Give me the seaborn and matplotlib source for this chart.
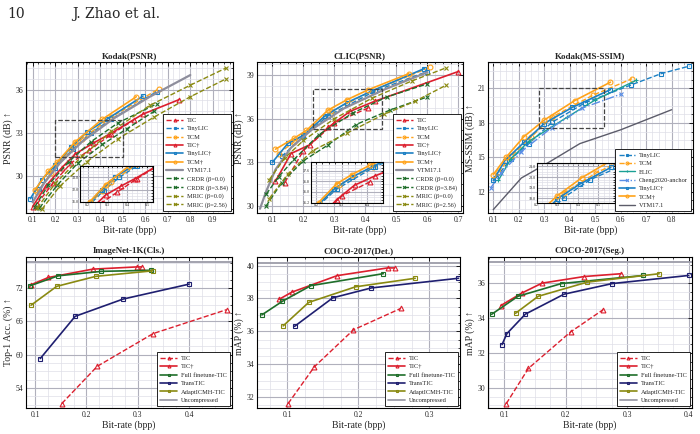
import matplotlib
matplotlib.use("Agg")
import matplotlib.pyplot as plt
import seaborn as sns
from matplotlib.ticker import AutoMinorLocator, MultipleLocator
from matplotlib.patches import Rectangle

# ---------------- Kodak (PSNR) ----------------
kp_tic_x = [0.12, 0.19, 0.27, 0.35, 0.45, 0.55]
kp_tic_y = [28.1, 29.5, 30.9, 31.8, 32.9, 33.9]
kp_tinylic_x = [0.13, 0.20, 0.28, 0.36, 0.45, 0.65]
kp_tinylic_y = [29.1, 30.6, 31.9, 33.0, 33.95, 35.85]
kp_tcm_x = [0.12, 0.18, 0.27, 0.32, 0.45, 0.66]
kp_tcm_y = [28.9, 30.2, 31.9, 32.6, 34.1, 36.05]
kp_tic2_x = [0.10, 0.16, 0.23, 0.29, 0.37, 0.44, 0.59, 0.75]
kp_tic2_y = [27.9, 29.35, 30.6, 31.55, 32.3, 32.9, 34.3, 35.3]
kp_tinylic2_x = [0.09, 0.14, 0.20, 0.27, 0.34, 0.43, 0.59]
kp_tinylic2_y = [28.45, 29.75, 30.75, 32.0, 33.05, 33.95, 35.55]
kp_tcm2_x = [0.11, 0.17, 0.21, 0.29, 0.41, 0.56]
kp_tcm2_y = [29.05, 30.35, 31.0, 32.4, 33.95, 35.5]
kp_vtm_x = [0.10, 0.15, 0.22, 0.32, 0.46, 0.62, 0.80]
kp_vtm_y = [28.2, 29.5, 30.9, 32.4, 34.0, 35.5, 37.0]
kp_crdr0_x = [0.11, 0.17, 0.26, 0.36, 0.48, 0.65]
kp_crdr0_y = [27.9, 29.4, 31.0, 32.4, 33.7, 35.0]
kp_crdr1_x = [0.13, 0.21, 0.30, 0.41, 0.52, 0.64]
kp_crdr1_y = [27.8, 29.4, 30.9, 32.2, 33.3, 34.5]
kp_mric0_x = [0.12, 0.20, 0.32, 0.45, 0.62, 0.80, 0.96]
kp_mric0_y = [27.8, 29.5, 31.4, 33.1, 34.9, 36.3, 37.5]
kp_mric1_x = [0.14, 0.22, 0.34, 0.48, 0.64, 0.80, 0.96]
kp_mric1_y = [27.7, 29.3, 31.0, 32.6, 34.1, 35.5, 36.75]

# ---------------- CLIC (PSNR) ----------------
cp_tic_x = [0.14, 0.20, 0.30, 0.41]
cp_tic_y = [31.6, 33.8, 35.7, 36.75]
cp_tinylic_x = [0.13, 0.20, 0.28, 0.43, 0.60]
cp_tinylic_y = [33.4, 34.8, 36.2, 37.9, 39.25]
cp_tcm_x = [0.12, 0.17, 0.29, 0.42, 0.61]
cp_tcm_y = [33.6, 34.4, 36.5, 37.9, 39.55]
cp_tic2_x = [0.11, 0.16, 0.22, 0.28, 0.35, 0.43, 0.70]
cp_tic2_y = [31.7, 33.6, 34.2, 35.4, 36.5, 37.2, 39.25]
cp_tinylic2_x = [0.10, 0.15, 0.20, 0.27, 0.34, 0.42, 0.59]
cp_tinylic2_y = [33.0, 34.3, 34.85, 36.2, 37.1, 37.9, 39.45]
cp_tcm2_x = [0.11, 0.17, 0.21, 0.28, 0.34, 0.41, 0.54]
cp_tcm2_y = [33.9, 34.65, 35.2, 36.6, 37.3, 38.0, 39.1]
cp_vtm_x = [0.06, 0.08, 0.11, 0.16, 0.23, 0.33, 0.46, 0.60]
cp_vtm_y = [29.8, 31.0, 32.5, 34.0, 35.3, 36.7, 38.0, 39.2]
cp_crdr0_x = [0.08, 0.12, 0.17, 0.25, 0.36, 0.47, 0.60]
cp_crdr0_y = [30.8, 32.0, 33.2, 34.9, 36.4, 37.5, 38.4]
cp_crdr1_x = [0.08, 0.13, 0.20, 0.28, 0.37, 0.48, 0.60]
cp_crdr1_y = [30.0, 31.6, 33.1, 34.2, 35.6, 36.6, 37.5]
cp_mric0_x = [0.09, 0.14, 0.20, 0.30, 0.42, 0.55, 0.66]
cp_mric0_y = [31.8, 33.3, 34.5, 36.0, 37.4, 38.6, 39.5]
cp_mric1_x = [0.09, 0.15, 0.23, 0.34, 0.46, 0.56, 0.66]
cp_mric1_y = [30.5, 32.2, 33.8, 35.0, 36.3, 37.2, 38.3]

# ---------------- Kodak (MS-SSIM) ----------------
km_tinylic_x = [0.11, 0.17, 0.24, 0.33, 0.46, 0.64, 0.76, 0.87]
km_tinylic_y = [13.2, 14.9, 16.2, 18.05, 19.75, 21.3, 22.3, 22.95]
km_tcm_x = [0.12, 0.17, 0.25, 0.33, 0.49, 0.645]
km_tcm_y = [13.7, 15.1, 16.8, 18.5, 20.4, 21.85]
km_elic_x = [0.12, 0.17, 0.24, 0.39, 0.50, 0.66]
km_elic_y = [13.0, 14.9, 16.4, 18.5, 20.0, 21.7]
km_cheng_x = [0.09, 0.13, 0.21, 0.33, 0.45, 0.60]
km_cheng_y = [12.35, 13.6, 15.5, 17.6, 19.3, 20.5]
km_tinylic2_x = [0.10, 0.145, 0.22, 0.30, 0.41, 0.56]
km_tinylic2_y = [13.0, 14.7, 16.3, 17.95, 19.35, 20.9]
km_tcm2_x = [0.10, 0.15, 0.22, 0.30, 0.42, 0.56]
km_tcm2_y = [13.5, 15.0, 16.8, 18.25, 19.95, 21.55]
km_vtm_x = [0.10, 0.21, 0.32, 0.44, 0.60, 0.80]
km_vtm_y = [10.45, 13.2, 14.6, 16.2, 17.4, 19.15]

# ---------------- ImageNet-1K (Cls.) ----------------
cls_tic_x = [0.152, 0.221, 0.330, 0.473]
cls_tic_y = [51.2, 57.9, 63.8, 68.1]
cls_tic2_x = [0.092, 0.126, 0.212, 0.298, 0.308]
cls_tic2_y = [72.6, 73.9, 75.4, 75.8, 75.8]
cls_full_x = [0.090, 0.145, 0.229, 0.325]
cls_full_y = [72.4, 74.2, 75.0, 75.2]
cls_trans_x = [0.110, 0.178, 0.271, 0.400]
cls_trans_y = [59.3, 66.9, 70.0, 72.7]
cls_adapt_x = [0.092, 0.142, 0.218, 0.329]
cls_adapt_y = [68.9, 72.3, 74.1, 75.1]
cls_uncompressed = 76.6

# ---------------- COCO-2017 (Det.) ----------------
det_tic_x = [0.101, 0.138, 0.193, 0.260]
det_tic_y = [31.6, 33.84, 36.09, 37.4]
det_tic2_x = [0.088, 0.106, 0.170, 0.241, 0.251]
det_tic2_y = [37.94, 38.38, 39.39, 39.86, 39.86]
det_full_x = [0.064, 0.093, 0.133, 0.235]
det_full_y = [37.0, 37.83, 38.78, 39.51]
det_trans_x = [0.110, 0.164, 0.218, 0.341]
det_trans_y = [36.3, 38.04, 38.64, 39.23]
det_adapt_x = [0.094, 0.130, 0.196, 0.280]
det_adapt_y = [36.33, 37.76, 38.71, 39.23]
det_uncompressed = 40.16

# ---------------- COCO-2017 (Seg.) ----------------
seg_tic_x = [0.103, 0.139, 0.208, 0.261]
seg_tic_y = [29.1, 31.11, 33.2, 34.47]
seg_tic2_x = [0.094, 0.128, 0.161, 0.230, 0.290]
seg_tic2_y = [34.7, 35.41, 35.98, 36.36, 36.52]
seg_full_x = [0.079, 0.122, 0.193, 0.326]
seg_full_y = [34.2, 35.23, 35.96, 36.42]
seg_trans_x = [0.096, 0.104, 0.134, 0.197, 0.276, 0.400]
seg_trans_y = [32.47, 33.1, 34.21, 35.35, 35.96, 36.42]
seg_adapt_x = [0.118, 0.155, 0.235, 0.352]
seg_adapt_y = [34.26, 35.23, 36.04, 36.52]
seg_uncompressed = 37.19

# zoom boxes (x0, x1, y0, y1)
kp_box = [0.2, 0.5, 31.3, 33.9]
cp_box = [0.23, 0.454, 35.3, 38.05]
km_box = [0.28, 0.536, 17.55, 21.0]

RED = "#dc1f2e"
BLUE = "#1c80c4"
ORANGE = "#ffa31a"
GRAY = "#8e8e9c"
GREEN = "#1f6e2a"
OLIVE = "#8a8a12"
TEAL = "#1aa095"
LBLUE = "#5a8ee6"
NAVY = "#1f1f70"

sns.set_theme(style="whitegrid")
plt.rcParams["font.family"] = ["Liberation Serif", "DejaVu Serif"]


def draw(ax, x, y, color, ls, marker, label=None, lw=1.0, ms=3.5):
    kw = dict(x=x, y=y, ax=ax, color=color, linestyle=ls, marker=marker,
              markersize=ms, markerfacecolor="none", markeredgecolor=color,
              markeredgewidth=0.8, linewidth=lw, sort=False)
    if label is not None:
        kw["label"] = label
    sns.lineplot(**kw)


def style_axes(ax, title, ylabel, xlim, ylim, xstep, ystep, fs=5.5, pad=2):
    ax.set_xlim(*xlim)
    ax.set_ylim(*ylim)
    ax.xaxis.set_major_locator(MultipleLocator(xstep))
    ax.yaxis.set_major_locator(MultipleLocator(ystep))
    ax.xaxis.set_minor_locator(AutoMinorLocator(4))
    ax.yaxis.set_minor_locator(AutoMinorLocator(4))
    ax.grid(True, which="major", color="#b0b0bc", linewidth=0.8)
    ax.grid(True, which="minor", color="#dfdfe8", linewidth=0.5)
    ax.tick_params(which="both", direction="in", top=True, right=True,
                   labelsize=fs, pad=pad, color="black")
    ax.tick_params(which="major", length=3, width=0.6)
    ax.tick_params(which="minor", length=1.5, width=0.5)
    for s in ax.spines.values():
        s.set_color("black")
        s.set_linewidth(0.8)
    ax.set_facecolor("white")
    if title:
        ax.set_title(title, fontsize=6.5, fontweight="bold", pad=3)
    if ylabel is not None:
        ax.set_xlabel("Bit-rate (bpp)", fontsize=7, labelpad=1)
        ax.set_ylabel(ylabel, fontsize=7, labelpad=2)


def make_legend(ax):
    leg = ax.legend(loc="lower right", fontsize=4.6, frameon=True, fancybox=False,
                    edgecolor="black", framealpha=1, handlelength=2.6,
                    borderpad=0.5, labelspacing=0.45, handletextpad=0.6,
                    markerscale=0.6, borderaxespad=0.3)
    leg.get_frame().set_linewidth(0.6)


def zoom_box(ax, box):
    ax.add_patch(Rectangle((box[0], box[2]), box[1] - box[0], box[3] - box[2],
                           fill=False, edgecolor="#444444", linestyle="--",
                           linewidth=0.9, zorder=5))


def inset_style(ax, xlim, ylim, ystep):
    style_axes(ax, None, None, xlim, ylim, 0.1, ystep, fs=3.0, pad=0.6)
    ax.tick_params(which="major", length=1.5)
    ax.yaxis.set_major_formatter("{x:.1f}")


fig = plt.figure(figsize=(7, 4.34), dpi=100)
fig.text(0.010, 0.958, "10", fontsize=10, family=["DejaVu Serif"])
fig.text(0.103, 0.958, "J. Zhao et al.", fontsize=10, family=["DejaVu Serif"])

top_b, bot_b, h = 0.509, 0.060, 0.348
ax1 = fig.add_axes([0.037, top_b, 0.296, h])
ax2 = fig.add_axes([0.367, top_b, 0.294, h])
ax3 = fig.add_axes([0.697, top_b, 0.293, h])
ax4 = fig.add_axes([0.037, bot_b, 0.294, h])
ax5 = fig.add_axes([0.367, bot_b, 0.290, h])
ax6 = fig.add_axes([0.697, bot_b, 0.291, h])


def psnr_panel(ax, d, label_on=True):
    lab = (lambda s: s) if label_on else (lambda s: None)
    draw(ax, d["tic"][0], d["tic"][1], RED, "--", "^", lab("TIC"))
    draw(ax, d["tinylic"][0], d["tinylic"][1], BLUE, "--", "s", lab("TinyLIC"))
    draw(ax, d["tcm"][0], d["tcm"][1], ORANGE, "--", "o", lab("TCM"))
    draw(ax, d["tic2"][0], d["tic2"][1], RED, "-", "^", lab("TIC†"), lw=1.2)
    draw(ax, d["tinylic2"][0], d["tinylic2"][1], BLUE, "-", "s", lab("TinyLIC†"), lw=1.2)
    draw(ax, d["tcm2"][0], d["tcm2"][1], ORANGE, "-", "o", lab("TCM†"), lw=1.2)
    if label_on:
        draw(ax, d["vtm"][0], d["vtm"][1], GRAY, "-", None, "VTM17.1", lw=1.6)
        draw(ax, d["crdr0"][0], d["crdr0"][1], GREEN, "--", "x", "CRDR (β=0.0)")
        draw(ax, d["crdr1"][0], d["crdr1"][1], GREEN, "--", "x", "CRDR (β=3.84)")
        draw(ax, d["mric0"][0], d["mric0"][1], OLIVE, "--", "x", "MRIC (β=0.0)")
        draw(ax, d["mric1"][0], d["mric1"][1], OLIVE, "--", "x", "MRIC (β=2.56)")


kodak = dict(tic=(kp_tic_x, kp_tic_y), tinylic=(kp_tinylic_x, kp_tinylic_y),
             tcm=(kp_tcm_x, kp_tcm_y), tic2=(kp_tic2_x, kp_tic2_y),
             tinylic2=(kp_tinylic2_x, kp_tinylic2_y), tcm2=(kp_tcm2_x, kp_tcm2_y),
             vtm=(kp_vtm_x, kp_vtm_y), crdr0=(kp_crdr0_x, kp_crdr0_y),
             crdr1=(kp_crdr1_x, kp_crdr1_y), mric0=(kp_mric0_x, kp_mric0_y),
             mric1=(kp_mric1_x, kp_mric1_y))
clic = dict(tic=(cp_tic_x, cp_tic_y), tinylic=(cp_tinylic_x, cp_tinylic_y),
            tcm=(cp_tcm_x, cp_tcm_y), tic2=(cp_tic2_x, cp_tic2_y),
            tinylic2=(cp_tinylic2_x, cp_tinylic2_y), tcm2=(cp_tcm2_x, cp_tcm2_y),
            vtm=(cp_vtm_x, cp_vtm_y), crdr0=(cp_crdr0_x, cp_crdr0_y),
            crdr1=(cp_crdr1_x, cp_crdr1_y), mric0=(cp_mric0_x, cp_mric0_y),
            mric1=(cp_mric1_x, cp_mric1_y))

# Kodak PSNR
psnr_panel(ax1, kodak)
style_axes(ax1, "Kodak(PSNR)", "PSNR (dB) ↑", (0.07, 0.99), (27.45, 37.9), 0.1, 3)
zoom_box(ax1, kp_box)
make_legend(ax1)
in1 = ax1.inset_axes([0.26, 0.075, 0.354, 0.235])
psnr_panel(in1, kodak, label_on=False)
inset_style(in1, (0.16, 0.53), (31.0, 33.9), 1.0)

# CLIC PSNR
psnr_panel(ax2, clic)
style_axes(ax2, "CLIC(PSNR)", "PSNR (dB) ↑", (0.05, 0.714), (29.5, 39.9), 0.1, 3)
zoom_box(ax2, cp_box)
make_legend(ax2)
in2 = ax2.inset_axes([0.262, 0.07, 0.35, 0.265])
psnr_panel(in2, clic, label_on=False)
inset_style(in2, (0.18, 0.46), (35.2, 38.2), 0.8)


def ssim_panel(ax, label_on=True):
    lab = (lambda s: s) if label_on else (lambda s: None)
    draw(ax, km_tinylic_x, km_tinylic_y, BLUE, "--", "s", lab("TinyLIC"))
    draw(ax, km_tcm_x, km_tcm_y, ORANGE, "--", "o", lab("TCM"))
    if label_on:
        draw(ax, km_elic_x, km_elic_y, TEAL, "-", "+", "ELIC")
        draw(ax, km_cheng_x, km_cheng_y, LBLUE, "-.", "x", "Cheng2020-anchor")
    draw(ax, km_tinylic2_x, km_tinylic2_y, BLUE, "-", "s", lab("TinyLIC†"), lw=1.2)
    draw(ax, km_tcm2_x, km_tcm2_y, ORANGE, "-", "o", lab("TCM†"), lw=1.2)
    if label_on:
        draw(ax, km_vtm_x, km_vtm_y, "#5c5c6a", "-", None, "VTM17.1", lw=1.0)


ssim_panel(ax3)
style_axes(ax3, "Kodak(MS-SSIM)", "MS-SSIM (dB) ↑", (0.079, 0.884), (10.15, 23.3), 0.1, 3)
zoom_box(ax3, km_box)
make_legend(ax3)
in3 = ax3.inset_axes([0.239, 0.07, 0.38, 0.26])
ssim_panel(in3, label_on=False)
inset_style(in3, (0.2, 0.58), (17.6, 21.3), 1.0)


def task_panel(ax, tic, tic2, full, trans, adapt, unc):
    draw(ax, tic[0], tic[1], RED, "--", "^", "TIC")
    draw(ax, tic2[0], tic2[1], RED, "-", "^", "TIC†", lw=1.2)
    draw(ax, full[0], full[1], GREEN, "-", "s", "Full finetune-TIC", lw=1.2)
    draw(ax, trans[0], trans[1], NAVY, "-", "s", "TransTIC", lw=1.2)
    draw(ax, adapt[0], adapt[1], OLIVE, "-", "s", "AdaptICMH-TIC", lw=1.2)
    ax.axhline(unc, color="#9c9ca8", linewidth=1.3, label="Uncompressed")


task_panel(ax4, (cls_tic_x, cls_tic_y), (cls_tic2_x, cls_tic2_y),
           (cls_full_x, cls_full_y), (cls_trans_x, cls_trans_y),
           (cls_adapt_x, cls_adapt_y), cls_uncompressed)
style_axes(ax4, "ImageNet-1K(Cls.)", "Top-1 Acc. (%) ↑", (0.082, 0.483), (50.4, 77.6), 0.1, 6)
make_legend(ax4)

task_panel(ax5, (det_tic_x, det_tic_y), (det_tic2_x, det_tic2_y),
           (det_full_x, det_full_y), (det_trans_x, det_trans_y),
           (det_adapt_x, det_adapt_y), det_uncompressed)
style_axes(ax5, "COCO-2017(Det.)", "mAP (%) ↑", (0.057, 0.343), (31.33, 40.53), 0.1, 2)
make_legend(ax5)

task_panel(ax6, (seg_tic_x, seg_tic_y), (seg_tic2_x, seg_tic2_y),
           (seg_full_x, seg_full_y), (seg_trans_x, seg_trans_y),
           (seg_adapt_x, seg_adapt_y), seg_uncompressed)
style_axes(ax6, "COCO-2017(Seg.)", "mAP (%) ↑", (0.073, 0.405), (28.85, 37.48), 0.1, 2)
make_legend(ax6)

fig.savefig("out.png", dpi=100, facecolor="white")
